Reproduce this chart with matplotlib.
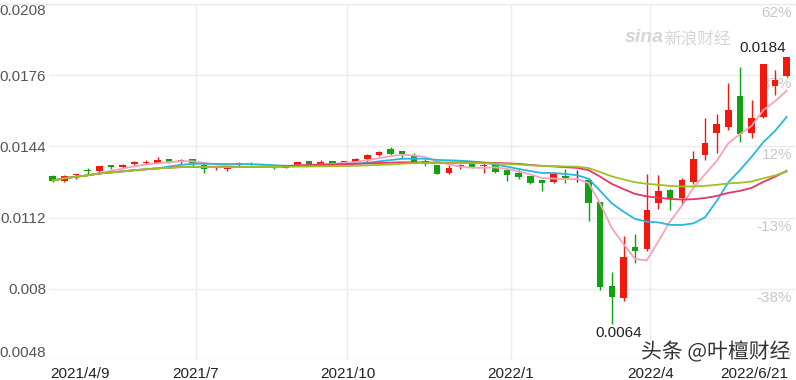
import numpy as np
import pandas as pd
import matplotlib
matplotlib.use("Agg")
import matplotlib.pyplot as plt
import matplotlib.patheffects as pe
from matplotlib.lines import Line2D

plt.rcParams['font.family'] = ['Liberation Sans', 'Noto Sans CJK SC', 'DejaVu Sans']

# 周K线数据 (开, 收, 高, 低)
opens = [0.01307, 0.01285, 0.01312, 0.01333, 0.01330, 0.01356, 0.01346, 0.01360,
         0.01366, 0.01364, 0.01384, 0.01369, 0.01382, 0.01356, 0.01337, 0.01340,
         0.01355, 0.01363, 0.01354, 0.01352, 0.01343, 0.01356, 0.01374, 0.01359,
         0.01373, 0.01366, 0.01369, 0.01382, 0.01403, 0.01427, 0.01419, 0.01397,
         0.01374, 0.01356, 0.01319, 0.01349, 0.01364, 0.01350, 0.01356, 0.01334,
         0.01322, 0.01307, 0.01289, 0.01279, 0.01307, 0.01307, 0.01289, 0.01189,
         0.00813, 0.00757, 0.00987, 0.00978, 0.01184, 0.01244, 0.01207, 0.01281,
         0.01401, 0.01499, 0.01529, 0.01667, 0.01499, 0.01574, 0.01712, 0.01756]
closes = [0.01286, 0.01308, 0.01316, 0.01330, 0.01352, 0.01346, 0.01356, 0.01369,
          0.01370, 0.01379, 0.01372, 0.01379, 0.01364, 0.01337, 0.01340, 0.01343,
          0.01360, 0.01358, 0.01352, 0.01348, 0.01346, 0.01369, 0.01360, 0.01369,
          0.01361, 0.01374, 0.01384, 0.01400, 0.01416, 0.01406, 0.01406, 0.01371,
          0.01360, 0.01315, 0.01344, 0.01356, 0.01346, 0.01356, 0.01326, 0.01312,
          0.01301, 0.01274, 0.01274, 0.01316, 0.01297, 0.01307, 0.01184, 0.00807,
          0.00765, 0.00942, 0.00971, 0.01154, 0.01240, 0.01207, 0.01289, 0.01383,
          0.01457, 0.01539, 0.01604, 0.01494, 0.01569, 0.01809, 0.01739, 0.01840]
highs = [0.01310, 0.01310, 0.01318, 0.01343, 0.01353, 0.01357, 0.01360, 0.01373,
         0.01378, 0.01391, 0.01385, 0.01382, 0.01383, 0.01364, 0.01346, 0.01356,
         0.01369, 0.01372, 0.01358, 0.01357, 0.01348, 0.01370, 0.01374, 0.01378,
         0.01374, 0.01376, 0.01389, 0.01406, 0.01421, 0.01439, 0.01420, 0.01409,
         0.01382, 0.01357, 0.01356, 0.01361, 0.01366, 0.01364, 0.01364, 0.01336,
         0.01337, 0.01308, 0.01290, 0.01317, 0.01337, 0.01332, 0.01298, 0.01192,
         0.00874, 0.01037, 0.01046, 0.01316, 0.01312, 0.01247, 0.01299, 0.01419,
         0.01566, 0.01586, 0.01724, 0.01796, 0.01649, 0.01810, 0.01783, 0.01840]
lows = [0.01279, 0.01279, 0.01293, 0.01315, 0.01315, 0.01337, 0.01342, 0.01355,
        0.01360, 0.01364, 0.01367, 0.01360, 0.01349, 0.01322, 0.01334, 0.01331,
        0.01352, 0.01355, 0.01348, 0.01339, 0.01341, 0.01355, 0.01358, 0.01353,
        0.01352, 0.01365, 0.01369, 0.01367, 0.01396, 0.01401, 0.01382, 0.01364,
        0.01353, 0.01314, 0.01315, 0.01337, 0.01344, 0.01319, 0.01322, 0.01286,
        0.01292, 0.01272, 0.01241, 0.01277, 0.01277, 0.01279, 0.01106, 0.00795,
        0.00640, 0.00747, 0.00915, 0.00971, 0.01157, 0.01154, 0.01177, 0.01271,
        0.01379, 0.01409, 0.01514, 0.01461, 0.01476, 0.01566, 0.01671, 0.01750]

ma_periods = [5, 10, 20, 30]
ma_colors = ['#f5a3bd', '#27b7de', '#e8346b', '#9dc323']

y_levels = [0.0208, 0.0176, 0.0144, 0.0112, 0.0080, 0.0048]
y_labels = ['0.0208', '0.0176', '0.0144', '0.0112', '0.008', '0.0048']
pct_labels = ['62%', '37%', '12%', '-13%', '-38%', '-63%']

date_idx = [12, 25, 39, 51]
date_labels = ['2021/7', '2021/10', '2022/1', '2022/4']
first_date = '2021/4/9'
last_date = '2022/6/21'

up_color = '#f2180c'
down_color = '#0fa30f'
grid_color = '#ebebeb'

n = len(closes)
x = np.arange(n)
o = np.array(opens); c = np.array(closes)
h = np.array(highs); l = np.array(lows)

fig = plt.figure(figsize=(7.96, 3.8), dpi=100)
ax = fig.add_axes([49 / 796, 20 / 380, 746 / 796, 356 / 380])
ax.set_xlim(-0.32, 63.72)
ax.set_ylim(0.0048, 0.0208)
for s in ax.spines.values():
    s.set_visible(False)

# 网格
for v in y_levels:
    ax.axhline(v, color=grid_color, lw=1, zorder=0)
for i in date_idx:
    ax.axvline(i + 0.3, color=grid_color, lw=1, zorder=0)
fig.add_artist(Line2D([0, 1], [1 - 4 / 380, 1 - 4 / 380], color=grid_color, lw=1))

# 右侧涨跌幅 (最下面一个贴在网格线上方)
for k, (v, t) in enumerate(zip(y_levels, pct_labels)):
    last = k == len(y_levels) - 1
    ax.annotate(t, xy=(1, v), xycoords=('axes fraction', 'data'),
                xytext=(-3, 1 if last else -2), textcoords='offset pixels',
                ha='right', va='bottom' if last else 'top', fontsize=11,
                color='#c8c8c8', zorder=1)

# K线
colors = np.where(c > o, up_color, np.where(c < o, down_color, '#333333'))
ax.vlines(x, l, h, colors=colors, lw=1, zorder=2)
body_low = np.minimum(o, c)
body_h = np.maximum(np.abs(c - o), 0.00002)
ax.bar(x, body_h, bottom=body_low, width=0.56, color=colors, linewidth=0, zorder=2)

# 均线
ma_values = []
for p, col in zip(ma_periods, ma_colors):
    ma = pd.Series(closes).rolling(p, min_periods=1).mean()
    ma_values.append(ma.iloc[-1])
    ax.plot(x, ma, color=col, lw=1.3, zorder=3)

# 坐标轴标签
ax.set_yticks(y_levels)
ax.set_yticklabels(y_labels, fontsize=11, color='#555555')
ax.tick_params(axis='y', length=0, pad=2)
ylabs = ax.get_yticklabels()
ylabs[0].set_va('top')
ylabs[-1].set_va('bottom')

xt = [-0.25] + [i + 0.3 for i in date_idx] + [63.1]
ax.set_xticks(xt)
ax.set_xticklabels([first_date] + date_labels + [last_date], fontsize=11, color='#222222')
ax.tick_params(axis='x', length=0, pad=5)
xlabs = ax.get_xticklabels()
xlabs[0].set_ha('left')
xlabs[-1].set_ha('right')

# 最高最低
imax = int(np.argmax(h)); imin = int(np.argmin(l))
ax.annotate(f'{h[imax]:.4f}', xy=(imax, h[imax]), xytext=(-24, 9), textcoords='offset pixels',
            ha='center', va='center', fontsize=11, color='#222222', zorder=5)
ax.annotate(f'{l[imin]:.4f}', xy=(imin, l[imin]), xytext=(7, -9), textcoords='offset pixels',
            ha='center', va='center', fontsize=11, color='#222222', zorder=5)

# 顶部均线图例 (被裁掉)
legend_x = [50, 163, 278, 392]
for p, col, val, lx in zip(ma_periods, ma_colors, ma_values, legend_x):
    fig.text(lx / 796, 1 - 0.3 / 380, f'MA{p}: {val:.4f}', color=col, fontsize=11,
             ha='left', va='baseline')

# 水印
fig.text(625 / 796, 1 - 37 / 380, 'sina', fontsize=14, fontweight='bold', style='italic',
         color='#d6d6d6', ha='left', va='center', zorder=1)
fig.text(664 / 796, 1 - 39 / 380, '新浪财经', fontsize=12, color='#d6d6d6',
         family=['Noto Sans CJK SC'], ha='left', va='center', zorder=1)
fig.text(641 / 796, 1 - 352 / 380, '头条 @叶檀财经', fontsize=15, color='#333333',
         family=['Noto Sans CJK SC', 'DejaVu Sans'], ha='left', va='center', zorder=10,
         path_effects=[pe.withStroke(linewidth=2.5, foreground='white')])

fig.savefig('out.png', dpi=100)
